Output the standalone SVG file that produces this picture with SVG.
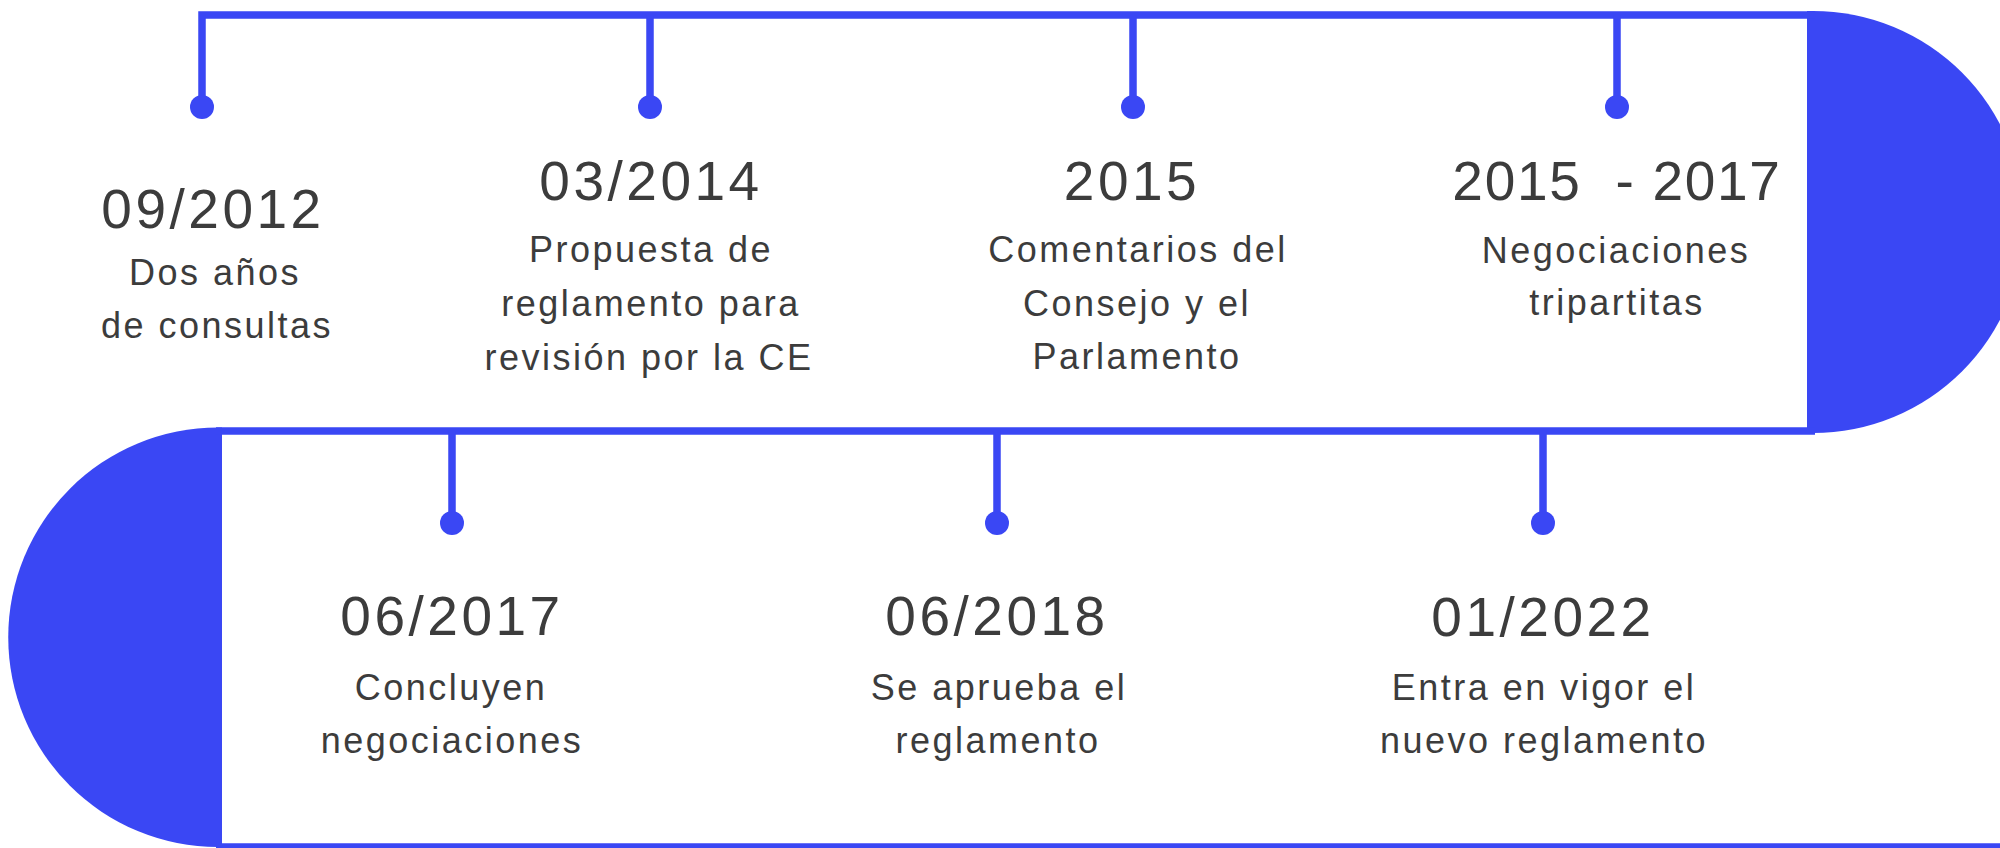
<svg xmlns="http://www.w3.org/2000/svg" width="2000" height="848" viewBox="0 0 2000 848">
<style>
.ln{fill:none;stroke:#3A47F4;stroke-width:7.5;stroke-linejoin:miter;stroke-linecap:butt}
.cap{fill:#3A47F4}
.dot{fill:#3A47F4}
.date{font-family:"Liberation Sans",Arial,sans-serif;font-size:55px;letter-spacing:3.5px;fill:#3c3c3c;text-anchor:middle}
.desc{font-family:"Liberation Sans",Arial,sans-serif;font-size:36px;letter-spacing:2.5px;fill:#3c3c3c;text-anchor:middle}
</style>
<rect width="2000" height="848" fill="#ffffff"/>
<g id="connectors">
  <path class="cap" d="M1807,11 L1813,11 A211,211 0 0 1 1813,433 L1807,433 Z"/>
  <path class="cap" d="M222,427.5 L218,427.5 A209.75,209.75 0 0 0 218,847 L222,847 Z"/>
  <path class="ln" d="M202,107 V15 H1815"/>
  <path class="ln" d="M216,431 H1815"/>
  <path class="ln" d="M216,847 H2000"/>
  <path class="ln" d="M650,15 V107 M1133,15 V107 M1617,15 V107"/>
  <path class="ln" d="M452,431 V523 M997,431 V523 M1543,431 V523"/>
</g>
<g id="node-2012">
  <circle class="dot" cx="202" cy="107" r="12"/>
  <text class="date" x="213" y="228">09/2012</text>
  <text class="desc" x="215" y="285">Dos años</text>
  <text class="desc" x="217" y="338">de consultas</text>
</g>
<g id="node-2014">
  <circle class="dot" cx="650" cy="107" r="12"/>
  <text class="date" x="651" y="200">03/2014</text>
  <text class="desc" x="651" y="262">Propuesta de</text>
  <text class="desc" x="651" y="316">reglamento para</text>
  <text class="desc" x="649" y="370">revisión por la CE</text>
</g>
<g id="node-2015">
  <circle class="dot" cx="1133" cy="107" r="12"/>
  <text class="date" x="1132" y="200">2015</text>
  <text class="desc" x="1138" y="262">Comentarios del</text>
  <text class="desc" x="1137" y="316">Consejo y el</text>
  <text class="desc" x="1137" y="369">Parlamento</text>
</g>
<g id="node-2015-2017">
  <circle class="dot" cx="1617" cy="107" r="12"/>
  <text class="date" x="1617" y="200" xml:space="preserve" style="white-space:pre;letter-spacing:1.7px">2015  - 2017</text>
  <text class="desc" x="1616" y="263">Negociaciones</text>
  <text class="desc" x="1617" y="315">tripartitas</text>
</g>
<g id="node-2017">
  <circle class="dot" cx="452" cy="523" r="12"/>
  <text class="date" x="452" y="635">06/2017</text>
  <text class="desc" x="451" y="700">Concluyen</text>
  <text class="desc" x="452" y="753">negociaciones</text>
</g>
<g id="node-2018">
  <circle class="dot" cx="997" cy="523" r="12"/>
  <text class="date" x="997" y="635">06/2018</text>
  <text class="desc" x="999" y="700">Se aprueba el</text>
  <text class="desc" x="998" y="753">reglamento</text>
</g>
<g id="node-2022">
  <circle class="dot" cx="1543" cy="523" r="12"/>
  <text class="date" x="1543" y="636">01/2022</text>
  <text class="desc" x="1544" y="700">Entra en vigor el</text>
  <text class="desc" x="1544" y="753">nuevo reglamento</text>
</g>
</svg>
